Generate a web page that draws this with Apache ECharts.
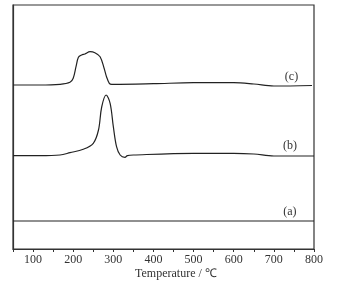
<!DOCTYPE html>
<html>
<head>
<meta charset="utf-8">
<script src="https://cdn.jsdelivr.net/npm/echarts@6/dist/echarts.min.js"></script>
<style>
	html, body { margin: 0; padding: 0; background: #fff; }
	#chart { width: 342px; height: 287px; }
</style>
</head>
<body>
<div id="chart"></div>
<script>
// temperature (℃), signal in arbitrary units (offset curves)
var tempA = [50, 800];
var valA = [28, 28];

var tempB = [50, 117, 167, 192, 225, 250, 263, 271, 282, 292, 300, 308, 317, 329, 335, 350, 500, 600, 650, 700, 800];
var valB = [93.3, 93.3, 94, 96.3, 99.7, 105.7, 119, 142, 154, 145.7, 122.3, 102.3, 94, 91.7, 93.3, 94, 95.7, 95.7, 95, 93, 93];

var tempC = [50, 117, 167, 192, 200, 207, 213, 221, 229, 242, 254, 267, 277, 283, 290, 296, 300, 400, 500, 600, 650, 700, 795];
var valC = [164, 164, 164.7, 166.7, 170.7, 182.3, 191.7, 194, 195, 197.3, 196.3, 192.3, 180.7, 172.3, 165.7, 164.7, 164.7, 165.3, 166.3, 166.3, 165, 163, 163.5];

var curveLabels = ['(a)', '(b)', '(c)'];
var labelTemp = [740, 740, 744];
var labelVal = [37.3, 103, 172.3];

var xTicks = [100, 200, 300, 400, 500, 600, 700, 800];

function pairs(xs, ys) {
	return xs.map(function (x, i) { return [x, ys[i]]; });
}

var chart = echarts.init(document.getElementById('chart'));
var serif = 'Liberation Serif';

var seriesData = [pairs(tempA, valA), pairs(tempB, valB), pairs(tempC, valC)];

chart.setOption({
	animation: false,
	grid: { left: 13, top: 5, width: 301, height: 244, show: true, borderColor: '#333', borderWidth: 1.2 },
	xAxis: {
		type: 'value', min: 50, max: 800, interval: 50,
		axisLine: { show: true, lineStyle: { color: '#333', width: 1.2 } },
		axisTick: { show: true, length: 3, lineStyle: { color: '#333' } },
		axisLabel: {
			fontFamily: serif, fontSize: 12, color: '#333', margin: 5,
			formatter: function (v) { return xTicks.indexOf(v) >= 0 ? String(v) : ''; }
		},
		splitLine: { show: false }
	},
	yAxis: {
		type: 'value', min: 0, max: 244,
		axisLine: { show: true, lineStyle: { color: '#333', width: 1.2 } },
		axisTick: { show: false }, axisLabel: { show: false }, splitLine: { show: false }
	},
	graphic: [{
		type: 'text', left: 135, top: 268,
		style: { text: 'Temperature / ℃', font: '12px "Liberation Serif"', fill: '#333' }
	}],
	series: seriesData.map(function (d, i) {
		return {
			type: 'line', data: d, smooth: 0.35, symbol: 'none',
			lineStyle: { color: '#222', width: 1.2 },
			markPoint: {
				symbol: 'circle', symbolSize: 0,
				label: { show: true, formatter: curveLabels[i], fontFamily: serif, fontSize: 12, color: '#333' },
				data: [{ coord: [labelTemp[i], labelVal[i]] }]
			}
		};
	})
});
</script>
</body>
</html>
